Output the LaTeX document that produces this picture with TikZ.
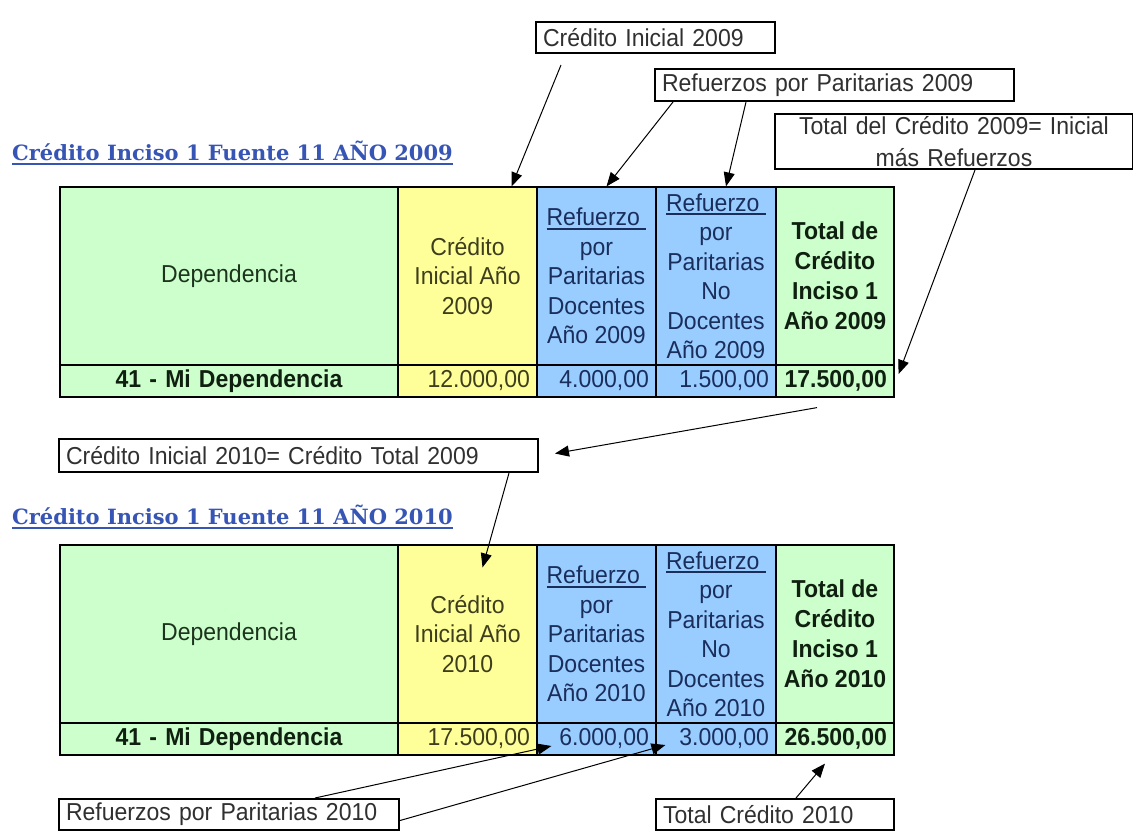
\documentclass[tikz,border=0pt]{standalone}
\usepackage{fontspec}
\setmainfont{Liberation Sans}[FakeStretch=0.94]
\newfontfamily\titulofont{DejaVu Serif}
\usetikzlibrary{arrows.meta}

\definecolor{cverde}{RGB}{204,255,204}
\definecolor{camarillo}{RGB}{255,255,153}
\definecolor{ccelest}{RGB}{153,204,255}
\definecolor{ctitulo}{RGB}{55,85,180}
\definecolor{tverde}{RGB}{28,52,28}
\definecolor{tamar}{RGB}{62,62,30}
\definecolor{tcelest}{RGB}{26,46,92}
\definecolor{tnegro}{RGB}{16,32,16}
\definecolor{cgris}{RGB}{48,48,48}

\newcommand{\subrayado}[2][4pt]{\leavevmode\setbox0=\hbox{#2}\rlap{\rule[-#1]{\wd0}{1.8pt}}\box0}

\begin{document}
\begin{tikzpicture}[x=1pt, y=-1pt,
		celda/.style={rectangle, draw, line width=1.2pt, inner sep=0pt, align=center, font=\fontsize{24.5}{29.5}\selectfont},
		valor/.style={rectangle, draw, line width=1.2pt, inner xsep=7pt, inner ysep=0pt, minimum height=32pt, align=right, font=\fontsize{24.5}{28}\selectfont},
		negrita/.style={font=\fontsize{24.5}{30}\selectfont\bfseries},
		titulo/.style={anchor=base west, inner sep=0pt, text=ctitulo, font=\titulofont\bfseries\fontsize{21}{24}\selectfont},
		caja/.style={rectangle, draw, line width=2pt, fill=white, anchor=north west, inner xsep=7pt, inner ysep=0pt, align=left, text=cgris, font=\fontsize{24.5}{32}\selectfont},
		flecha/.style={-{Triangle[length=14pt, width=11pt]}, line width=1pt, black}]
			\useasboundingbox[fill=white] (0,0) rectangle (1133,831);

			\node (tit1)[titulo] at (12,160) {\subrayado[4.5pt]{Crédito Inciso 1 Fuente 11 AÑO 2009}};
			\node (tit2)[titulo] at (12,524) {\subrayado[4.5pt]{Crédito Inciso 1 Fuente 11 AÑO 2010}};

			\node (dep1)[celda, fill=cverde, text=tverde, minimum width=338, minimum height=178] at (229,276) {Dependencia};
			\node (cre1)[celda, fill=camarillo, text=tamar, minimum width=139, minimum height=178] at (467.5,276) {Crédito\\Inicial Año\\2009};
			\node (rdo1)[celda, fill=ccelest, text=tcelest, minimum width=119, minimum height=178] at (596.5,276) {\subrayado{Refuerzo\ }\\por\\Paritarias\\Docentes\\Año 2009};
			\node (rnd1)[celda, fill=ccelest, text=tcelest, minimum width=120, minimum height=178] at (716,276) {\subrayado{Refuerzo\ }\\por\\Paritarias\\No\\Docentes\\Año 2009};
			\node (tot1)[celda, negrita, fill=cverde, text=tnegro, minimum width=118, minimum height=178] at (835,276) {Total de\\Crédito\\Inciso 1\\Año 2009};

			\node (vdep1)[valor, negrita, fill=cverde, text=tnegro, text width=324, align=center] at (229,381) {41 - Mi Dependencia};
			\node (vcre1)[valor, fill=camarillo, text=tamar, text width=125] at (467.5,381) {12.000,00};
			\node (vrdo1)[valor, fill=ccelest, text=tcelest, text width=105] at (596.5,381) {4.000,00};
			\node (vrnd1)[valor, fill=ccelest, text=tcelest, text width=106] at (716,381) {1.500,00};
			\node (vtot1)[valor, negrita, fill=cverde, text=tnegro, text width=104, align=right] at (835,381) {17.500,00};

			\node (dep2)[celda, fill=cverde, text=tverde, minimum width=338, minimum height=178] at (229,634) {Dependencia};
			\node (cre2)[celda, fill=camarillo, text=tamar, minimum width=139, minimum height=178] at (467.5,634) {Crédito\\Inicial Año\\2010};
			\node (rdo2)[celda, fill=ccelest, text=tcelest, minimum width=119, minimum height=178] at (596.5,634) {\subrayado{Refuerzo\ }\\por\\Paritarias\\Docentes\\Año 2010};
			\node (rnd2)[celda, fill=ccelest, text=tcelest, minimum width=120, minimum height=178] at (716,634) {\subrayado{Refuerzo\ }\\por\\Paritarias\\No\\Docentes\\Año 2010};
			\node (tot2)[celda, negrita, fill=cverde, text=tnegro, minimum width=118, minimum height=178] at (835,634) {Total de\\Crédito\\Inciso 1\\Año 2010};

			\node (vdep2)[valor, negrita, fill=cverde, text=tnegro, text width=324, align=center] at (229,739) {41 - Mi Dependencia};
			\node (vcre2)[valor, fill=camarillo, text=tamar, text width=125] at (467.5,739) {17.500,00};
			\node (vrdo2)[valor, fill=ccelest, text=tcelest, text width=105] at (596.5,739) {6.000,00};
			\node (vrnd2)[valor, fill=ccelest, text=tcelest, text width=106] at (716,739) {3.000,00};
			\node (vtot2)[valor, negrita, fill=cverde, text=tnegro, text width=104, align=right] at (835,739) {26.500,00};

			\node (lci09)[caja, text width=225, minimum height=31] at (535,21) {Crédito Inicial 2009};
			\node (lrp09)[caja, text width=345, minimum height=32] at (654,68) {Refuerzos por Paritarias 2009};
			\node (ltc09)[caja, text width=344, minimum height=55, align=center] at (774,113) {Total del Crédito 2009= Inicial\\más Refuerzos};
			\node (lci10)[caja, text width=465, minimum height=33] at (58,438) {Crédito Inicial 2010= Crédito Total 2009};
			\node (lrp10)[caja, text width=326, minimum height=31] at (58,798) {Refuerzos por Paritarias 2010};
			\node (ltc10)[caja, text width=224, minimum height=31] at (655,798) {Total Crédito 2010};

			\draw[flecha] ([xshift=26pt, yshift=-11pt]lci09.south west) -- ([xshift=44pt]cre1.north);
			\draw[flecha] ([xshift=19pt]lrp09.south west) -- ([xshift=10pt]rdo1.north);
			\draw[flecha] ([xshift=92pt]lrp09.south west) -- ([xshift=10pt]rnd1.north);
			\draw[flecha] ([xshift=201pt]ltc09.south west) -- ([xshift=4pt, yshift=7pt]vtot1.east);
			\draw[flecha] ([xshift=-18pt, yshift=-10pt]vtot1.south) -- ([xshift=16pt, yshift=2pt]lci10.east);
			\draw[flecha] ([xshift=-30pt]lci10.south east) -- ([xshift=15pt, yshift=-23pt]cre2.north);
			\draw[flecha] ([xshift=-85pt]lrp10.north east) -- ([xshift=15pt, yshift=-7pt]vrdo2.west);
			\draw[flecha] ([yshift=-6pt]lrp10.east) -- ([xshift=10pt, yshift=-6pt]vrnd2.west);
			\draw[flecha] ([xshift=141pt]ltc10.north west) -- ([xshift=-10pt, yshift=-8pt]vtot2.south);
		\end{tikzpicture}
\end{document}
